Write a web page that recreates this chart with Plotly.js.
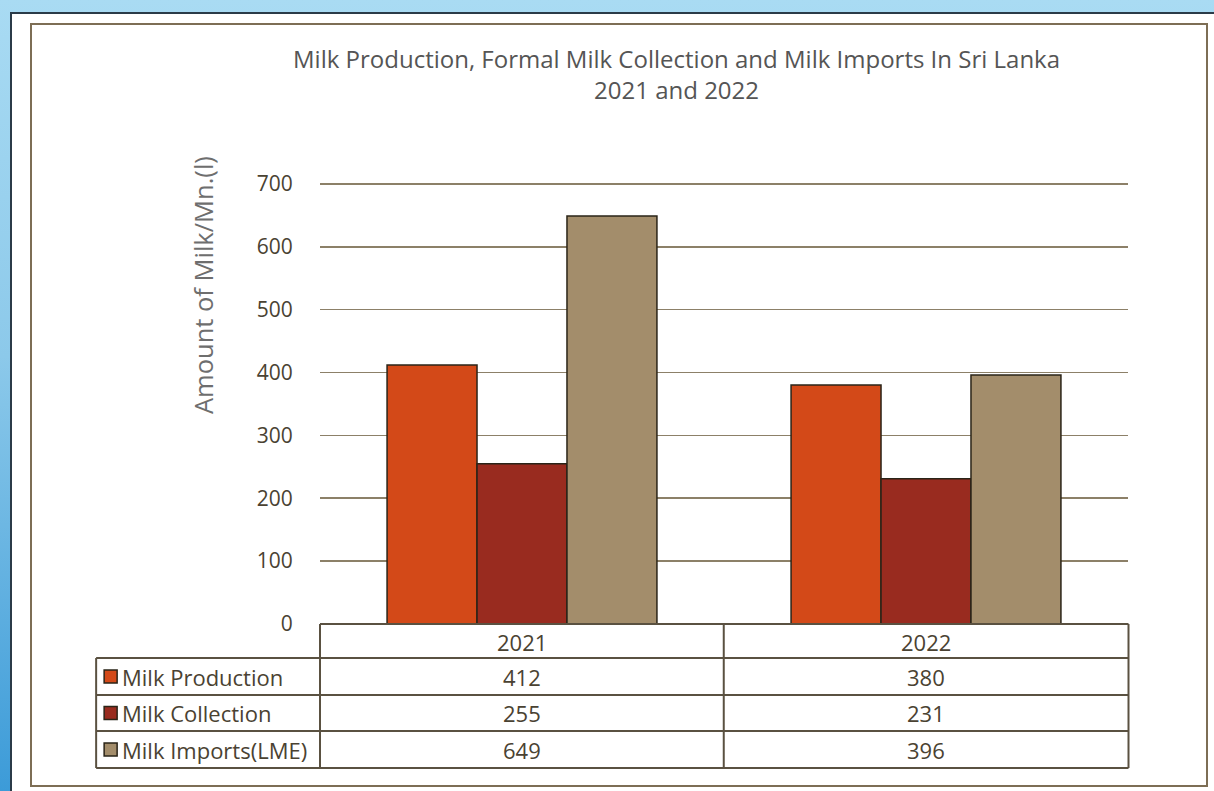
<!DOCTYPE html>
<html>
<head>
<meta charset="utf-8">
<script src="https://cdn.plot.ly/plotly-3.0.1.min.js"></script>
<style>
  html, body { margin: 0; padding: 0; width: 1214px; height: 791px; overflow: hidden; }
  body { background: linear-gradient(to bottom, #a9dbf3 0%, #8cc9ea 45%, #3c9bd8 100%); position: relative; }
  #panel { position: absolute; left: 10px; top: 12px; width: 1204px; height: 779px; background: #ffffff;
           border-left: 2px solid #2b3b48; border-top: 2px solid #2b3b48; box-sizing: border-box; }
  #frame { position: absolute; left: 30px; top: 23px; width: 1178px; height: 764px;
           border: 2px solid #7d6e55; box-sizing: border-box; }
  #chart { position: absolute; left: 0; top: 0; width: 1214px; height: 791px; }
</style>
</head>
<body>
<div id="panel"></div>
<div id="frame"></div>
<div id="chart"></div>
<script>
// ---- data ----
const years = ['2021', '2022'];
const seriesNames = ['Milk Production', 'Milk Collection', 'Milk Imports(LME)'];
const milkProduction = [412, 380];
const milkCollection = [255, 231];
const milkImports = [649, 396];
const yTicks = [0, 100, 200, 300, 400, 500, 600, 700];
const titleLines = ['Milk Production, Formal Milk Collection and Milk Imports In Sri Lanka', '2021 and 2022'];
const yTitle = 'Amount of Milk/Mn.(l)';

// ---- styles ----
const colors = ['#d34918', '#992b1f', '#a38d6b'];
const seriesValues = [milkProduction, milkCollection, milkImports];
const W = 1214, H = 791;
const L = 320, R = 1128.5, T = 182, B = 624;
const fontFam = '"Open Sans", "Noto Sans", sans-serif';
const textCol = '#4a4232';
const lineCol = '#5a5141';

const px = v => (v - L) / (R - L);
const py = v => (B - v) / (B - T);

const traces = seriesNames.map((n, i) => ({
  type: 'bar', name: n, x: years, y: seriesValues[i],
  marker: { color: colors[i], line: { color: '#2a2418', width: 1.5 } },
  hoverinfo: 'x+y+name'
}));

const shapes = [];
const annotations = [];
// table geometry (pixels)
const rowY = [624, 658, 695, 731, 768];
const colX = [96, 320, 724, 1129];
function line(x0, y0, x1, y1) {
  shapes.push({ type: 'line', xref: 'paper', yref: 'paper', x0: px(x0), y0: py(y0), x1: px(x1), y1: py(y1),
    line: { color: lineCol, width: 2 }, layer: 'above' });
}
line(320, rowY[0], 1129, rowY[0]);
for (let r = 1; r < rowY.length; r++) line(96, rowY[r], 1129, rowY[r]);
line(96, rowY[1], 96, rowY[4]);
line(320, rowY[0], 320, rowY[4]);
line(724, rowY[0], 724, rowY[4]);
line(1129, rowY[0], 1129, rowY[4]);

const tFont = { family: fontFam, size: 22, color: textCol };
years.forEach((yr, c) => {
  annotations.push({ xref: 'paper', yref: 'paper', x: px((colX[c + 1] + colX[c + 2]) / 2), y: py((rowY[0] + rowY[1]) / 2 + 1),
    text: yr, showarrow: false, xanchor: 'center', yanchor: 'middle', font: tFont });
});
seriesNames.forEach((n, r) => {
  const yc = (rowY[r + 1] + rowY[r + 2]) / 2;
  shapes.push({ type: 'rect', xref: 'paper', yref: 'paper', x0: px(104), x1: px(117), y0: py(yc - 6.5), y1: py(yc + 6.5),
    fillcolor: colors[r], line: { color: '#2a2418', width: 1.5 }, layer: 'above' });
  annotations.push({ xref: 'paper', yref: 'paper', x: px(120), y: py(yc), text: n, showarrow: false,
    xanchor: 'left', yanchor: 'middle', font: tFont });
  years.forEach((yr, c) => {
    annotations.push({ xref: 'paper', yref: 'paper', x: px((colX[c + 1] + colX[c + 2]) / 2), y: py(yc),
      text: String(seriesValues[r][c]), showarrow: false, xanchor: 'center', yanchor: 'middle', font: tFont });
  });
});
// y-axis title
annotations.push({ xref: 'paper', yref: 'paper', x: px(203), y: py(285), text: yTitle, textangle: -90,
  showarrow: false, xanchor: 'center', yanchor: 'middle', font: { family: fontFam, size: 25.5, color: '#6e6e6e' } });
// chart title (two lines in one text)
annotations.push({ xref: 'paper', yref: 'paper', x: px(677), y: py(74.5), text: titleLines.join('<br>'), showarrow: false,
  xanchor: 'center', yanchor: 'middle', align: 'center', font: { family: fontFam, size: 24, color: '#555555' } });

const layout = {
  width: W, height: H,
  paper_bgcolor: 'rgba(0,0,0,0)', plot_bgcolor: 'rgba(0,0,0,0)',
  margin: { l: L, r: W - R, t: T, b: H - B, pad: 0 },
  showlegend: false,
  barmode: 'group', bargap: 0.332, bargroupgap: 0,
  xaxis: { showticklabels: false, showgrid: false, zeroline: false, showline: false, ticks: '', fixedrange: true },
  yaxis: { range: [0, 703], tickvals: yTicks, showgrid: true, gridcolor: '#8c8068', gridwidth: 1.6, zeroline: false,
    showline: false, ticks: 'outside', ticklen: 22, tickcolor: 'rgba(0,0,0,0)',
    tickfont: { family: fontFam, size: 21, color: textCol }, fixedrange: true },
  shapes: shapes, annotations: annotations
};

Plotly.newPlot('chart', traces, layout, { displayModeBar: false, staticPlot: true });
</script>
</body>
</html>
